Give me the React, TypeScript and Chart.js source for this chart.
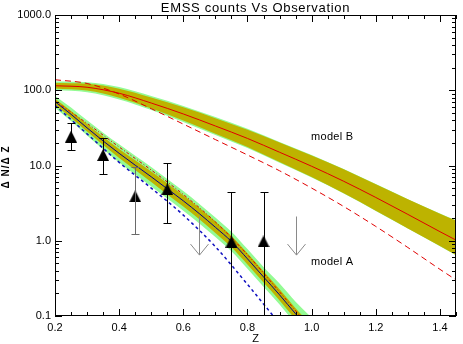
import React, { useEffect, useRef } from "react";
import { Chart, registerables } from "chart.js";
Chart.register(...registerables);

// ---------- data ----------
const xTicks = [0.2, 0.4, 0.6, 0.8, 1.0, 1.2, 1.4];
const yTicks = [0.1, 1, 10, 100, 1000];

const zA = [0.2, 0.25, 0.3, 0.35, 0.4, 0.45, 0.5, 0.55, 0.6, 0.65, 0.7, 0.75, 0.8, 0.85, 0.9, 0.95, 1.0, 1.05];
const modelA = [70.5, 47.9, 31.6, 21.2, 14.5, 10.1, 7.08, 4.9, 3.39, 2.29, 1.51, 0.977, 0.575, 0.331, 0.191, 0.107, 0.063, 0.037];
const modelAYellowHi = [77.3, 53.1, 35.5, 24.1, 16.6, 11.7, 8.32, 5.83, 4.03, 2.72, 1.8, 1.16, 0.684, 0.394, 0.227, 0.127, 0.075, 0.044];
const modelAYellowLo = [64.3, 43.2, 28.2, 18.7, 12.6, 8.7, 6.03, 4.12, 2.85, 1.93, 1.27, 0.822, 0.484, 0.278, 0.161, 0.09, 0.053, 0.031];
const modelAGreenHi = [84.7, 58.9, 39.8, 27.3, 19.1, 13.5, 9.55, 6.61, 4.57, 3.09, 2.04, 1.32, 0.776, 0.447, 0.27, 0.155, 0.095, 0.058];
const modelAGreenLo = [58.7, 38.9, 25.1, 16.5, 11.0, 7.57, 5.25, 3.63, 2.51, 1.7, 1.12, 0.724, 0.426, 0.245, 0.142, 0.079, 0.047, 0.027];

const zLinesA = [0.2, 0.3, 0.4, 0.5, 0.6, 0.7, 0.8, 0.9, 1.0];
const modelARed = [72.1, 36.3, 17.6, 8.71, 4.12, 1.78, 0.653, 0.209, 0.066];
const modelABlueDash = [63.1, 26.3, 11.0, 5.01, 2.19, 0.832, 0.263, 0.0794, 0.025];

const zB = [0.2, 0.3, 0.4, 0.5, 0.6, 0.7, 0.8, 0.9, 1.0, 1.1, 1.2, 1.3, 1.4, 1.45];
const modelB = [114.8, 109.6, 91.2, 67.6, 48.4, 33.5, 22.9, 15.0, 9.77, 6.17, 3.76, 2.24, 1.32, 1.02];
const modelBYellowHi = [124.5, 121.6, 104.7, 80.0, 59.3, 42.6, 29.9, 20.2, 13.6, 8.91, 5.62, 3.55, 2.29, 1.86];
const modelBYellowLo = [105.9, 98.9, 79.4, 57.1, 39.5, 26.4, 17.6, 11.1, 7.01, 4.27, 2.51, 1.46, 0.851, 0.646];
const modelBGreenHi = [130.9, 127.9, 110.2, 83.8, 61.8, 44.1, 30.7, 20.6, 13.8, 8.97, 5.66, 3.57, 2.31, 1.87];
const modelBGreenLo = [100.7, 94.0, 75.5, 54.6, 37.9, 25.5, 17.1, 10.9, 6.93, 4.24, 2.49, 1.45, 0.845, 0.641];
const modelBDash = [138.0, 123.0, 89.1, 56.9, 35.5, 22.1, 13.8, 8.51, 5.01, 2.85, 1.55, 0.813, 0.417, 0.302];

const zObs = [0.25, 0.35, 0.45, 0.55, 0.75, 0.85];
const nObs = [24.2, 13.8, 3.9, 4.85, 0.97, 0.98];
const nObsHi = [36.3, 23.4, 9.6, 10.9, 4.49, 4.49];
const nObsLo = [16.1, 7.7, 1.22, 1.74, 0.01, 0.01];

const zUpper = [0.65, 0.95];
const nUpperTop = [2.1, 2.1];
const nUpperTip = [0.645, 0.645];

const titleText = "EMSS counts Vs Observation";
const xTitle = "Z";
const yTitle = "\u0394 N/\u0394 Z";
const labelB = "model B";
const labelA = "model A";

// ---------- styles ----------
const FONT = "'Liberation Sans', Arial, Helvetica, sans-serif";
const RED = "#e00000";
const NAVY = "#00008c";
const BLUE = "#1010c0";
const YELLOW = "#bdb300";
const GREEN = "#94fb94";

const pts = (xs: number[], ys: number[]) => xs.map((x, i) => ({ x, y: ys[i] }));

function makeTriangle(): HTMLCanvasElement {
  const c = document.createElement("canvas");
  c.width = 12;
  c.height = 12;
  const g = c.getContext("2d")!;
  g.fillStyle = "#000";
  g.beginPath();
  g.moveTo(6, 0);
  g.lineTo(12, 12);
  g.lineTo(0, 12);
  g.closePath();
  g.fill();
  return c;
}

const lineBase = {
  pointRadius: 0,
  borderWidth: 1,
  cubicInterpolationMode: "monotone" as const,
  fill: false,
};

const decor = {
  id: "decor",
  afterDatasetsDraw(chart: any) {
    const { ctx, chartArea: a, scales } = chart;
    const x = scales.x, y = scales.y;
    ctx.save();
    ctx.beginPath();
    ctx.rect(a.left, a.top, a.right - a.left, a.bottom - a.top);
    ctx.clip();
    ctx.lineWidth = 1;
    zObs.forEach((z, i) => {
      const px = Math.round(x.getPixelForValue(z)) + 0.5;
      const t = Math.round(y.getPixelForValue(nObsHi[i])) + 0.5;
      const b = Math.round(y.getPixelForValue(nObsLo[i])) + 0.5;
      ctx.strokeStyle = i === 2 ? "#6a6a6a" : "#000";
      ctx.beginPath();
      ctx.moveTo(px, t); ctx.lineTo(px, b);
      ctx.moveTo(px - 4, t); ctx.lineTo(px + 4, t);
      ctx.moveTo(px - 4, b); ctx.lineTo(px + 4, b);
      ctx.stroke();
    });
    ctx.strokeStyle = "#8a8a8a";
    zUpper.forEach((z, i) => {
      const px = Math.round(x.getPixelForValue(z)) + 0.5;
      const t = y.getPixelForValue(nUpperTop[i]);
      const b = y.getPixelForValue(nUpperTip[i]);
      ctx.beginPath();
      ctx.moveTo(px, t); ctx.lineTo(px, b);
      ctx.moveTo(px - 9, b - 11); ctx.lineTo(px, b); ctx.lineTo(px + 9, b - 11);
      ctx.stroke();
    });
    ctx.restore();
  },
  afterDraw(chart: any) {
    const { ctx, chartArea: a, scales } = chart;
    const x = scales.x, y = scales.y;
    ctx.save();
    ctx.strokeStyle = "#000";
    ctx.lineWidth = 1;
    ctx.strokeRect(a.left + 0.5, a.top + 0.5, a.right - a.left - 1, a.bottom - a.top - 1);
    ctx.beginPath();
    for (let d = 0; d < yTicks.length; d++) {
      const dec = yTicks[d];
      const py = Math.round(y.getPixelForValue(dec)) + 0.5;
      ctx.moveTo(a.left, py); ctx.lineTo(a.left + 7, py);
      ctx.moveTo(a.right, py); ctx.lineTo(a.right - 7, py);
      if (d < yTicks.length - 1) {
        for (let m = 2; m <= 9; m++) {
          const pm = Math.round(y.getPixelForValue(dec * m)) + 0.5;
          ctx.moveTo(a.left, pm); ctx.lineTo(a.left + 4, pm);
          ctx.moveTo(a.right, pm); ctx.lineTo(a.right - 4, pm);
        }
      }
    }
    for (let k = 0; k <= 25; k++) {
      const v = 0.2 + k * 0.05;
      if (v > 1.4501) break;
      const len = k % 4 === 0 ? 7 : 4;
      const px = Math.round(x.getPixelForValue(v)) + 0.5;
      ctx.moveTo(px, a.bottom); ctx.lineTo(px, a.bottom - len);
      ctx.moveTo(px, a.top); ctx.lineTo(px, a.top + len);
    }
    ctx.stroke();

    ctx.fillStyle = "#000";
    ctx.textBaseline = "middle";
    ctx.textAlign = "center";
    ctx.font = `13px ${FONT}`;
    (ctx as any).letterSpacing = "0.7px";
    ctx.fillText(titleText, (a.left + a.right) / 2, 8);
    (ctx as any).letterSpacing = "0px";
    ctx.font = `11px ${FONT}`;
    ctx.fillText(xTitle, (a.left + a.right) / 2, 339);
    ctx.textAlign = "left";
    (ctx as any).letterSpacing = "0.3px";
    ctx.fillText(labelB, 311, 137);
    ctx.fillText(labelA, 311, 262);
    ctx.save();
    ctx.translate(6, 167);
    ctx.rotate(-Math.PI / 2);
    ctx.textAlign = "center";
    ctx.font = `bold 10px ${FONT}`;
    (ctx as any).letterSpacing = "1px";
    ctx.fillText(yTitle, 0, 0);
    ctx.restore();
    ctx.restore();
  },
};

export default function App() {
  const ref = useRef<HTMLCanvasElement | null>(null);
  useEffect(() => {
    if (!ref.current) return;
    const tri = makeTriangle();
    const chart = new Chart(ref.current, {
      type: "line",
      data: {
        datasets: [
          {
            ...lineBase,
            data: pts(zObs, nObs),
            showLine: false,
            pointStyle: tri,
            pointRadius: 6,
            backgroundColor: "#000",
            borderColor: "#000",
            order: 0,
          },
          { ...lineBase, data: pts(zA, modelA), borderColor: NAVY, order: 1 },
          { ...lineBase, data: pts(zLinesA, modelARed), borderColor: RED, borderDash: [3, 2, 1, 2], order: 1 },
          { ...lineBase, data: pts(zLinesA, modelABlueDash), borderColor: BLUE, borderDash: [3, 3], borderWidth: 1.5, order: 1 },
          { ...lineBase, data: pts(zA, modelAYellowHi), borderWidth: 0, borderColor: YELLOW, backgroundColor: YELLOW, fill: "+1", order: 2 },
          { ...lineBase, data: pts(zA, modelAYellowLo), borderWidth: 0, borderColor: YELLOW, order: 2 },
          { ...lineBase, data: pts(zA, modelAGreenHi), borderWidth: 0, borderColor: GREEN, backgroundColor: GREEN, fill: "+1", order: 3 },
          { ...lineBase, data: pts(zA, modelAGreenLo), borderWidth: 0, borderColor: GREEN, order: 3 },
          { ...lineBase, data: pts(zB, modelB), borderColor: RED, order: 4 },
          { ...lineBase, data: pts(zB, modelBDash), borderColor: RED, borderDash: [6, 4], order: 4 },
          { ...lineBase, data: pts(zB, modelBYellowHi), borderWidth: 0, borderColor: YELLOW, backgroundColor: YELLOW, fill: "+1", order: 5 },
          { ...lineBase, data: pts(zB, modelBYellowLo), borderWidth: 0, borderColor: YELLOW, order: 5 },
          { ...lineBase, data: pts(zB, modelBGreenHi), borderWidth: 0, borderColor: GREEN, backgroundColor: GREEN, fill: "+1", order: 6 },
          { ...lineBase, data: pts(zB, modelBGreenLo), borderWidth: 0, borderColor: GREEN, order: 6 },
        ] as any,
      },
      options: {
        responsive: false,
        devicePixelRatio: 1,
        animation: false,
        events: [],
        layout: { padding: { top: 15, right: 1, left: 0, bottom: 0 } },
        plugins: { legend: { display: false }, tooltip: { enabled: false }, title: { display: false } },
        scales: {
          x: {
            type: "linear",
            position: "bottom",
            min: 0.2,
            max: 1.45,
            grid: { display: false, drawTicks: false },
            border: { display: false },
            ticks: {
              padding: 5,
              color: "#000",
              font: { family: FONT, size: 11 },
              autoSkip: false,
              maxRotation: 0,
              callback: (v: any) => Number(v).toFixed(1),
            },
            afterBuildTicks: (s: any) => { s.ticks = xTicks.map((v) => ({ value: v })); },
            afterFit: (s: any) => { s.height = 28; },
          },
          y: {
            type: "logarithmic",
            position: "left",
            min: 0.1,
            max: 1000,
            grid: { display: false, drawTicks: false },
            border: { display: false },
            ticks: {
              padding: 4,
              color: "#000",
              font: { family: FONT, size: 11 },
              autoSkip: false,
              callback: (v: any) => Number(v).toFixed(1),
            },
            afterBuildTicks: (s: any) => { s.ticks = yTicks.map((v) => ({ value: v })); },
            afterFit: (s: any) => { s.width = 55; },
          },
        },
      } as any,
      plugins: [decor],
    });
    return () => chart.destroy();
  }, []);
  return (
    <div style={{ position: "absolute", left: 0, top: 0, width: 463, height: 344, background: "#fff" }}>
      <canvas ref={ref} width={463} height={344} style={{ display: "block" }} />
    </div>
  );
}
